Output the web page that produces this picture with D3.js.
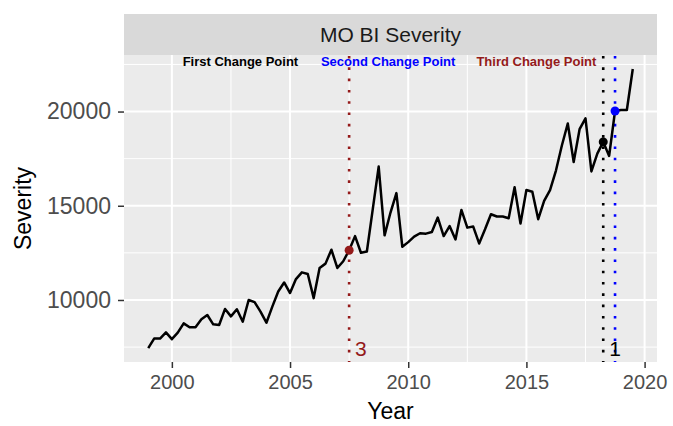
<!DOCTYPE html>
<html>
<head>
<meta charset="utf-8">
<script src="https://cdn.jsdelivr.net/npm/d3@7"></script>
<style>
  html, body { margin: 0; padding: 0; background: #ffffff; }
  svg { display: block; font-family: "Liberation Sans", Arial, Helvetica, sans-serif; }
</style>
</head>
<body>
<svg id="chart" width="673" height="426"></svg>
<script>
// ---------------- data ----------------
const title = "MO BI Severity";
const startYear = 1999;          // first quarter
const step = 0.25;               // quarterly
const severity = [
  7450, 7950, 7950, 8280, 7920, 8265, 8760, 8550, 8560, 8980,
  9205, 8710, 8670, 9525, 9130, 9510, 8850, 10000, 9890, 9385,
  8795, 9650, 10450, 10930, 10370, 11110, 11465, 11380, 10100, 11700,
  11930, 12670, 11700, 12055, 12640, 13390, 12505, 12575, 14820, 17080,
  13430, 14640, 15670, 12825, 13070, 13360, 13540, 13520, 13605, 14375,
  13395, 13925, 13215, 14780, 13840, 13895, 13000, 13750, 14550, 14430,
  14430, 14340, 15980, 14055, 15835, 15745, 14285, 15265, 15835, 16870,
  18200, 19365, 17320, 19065, 19640, 16820, 17770, 18390, 17645, 20030,
  20080, 20080, 22260
];
const changeLabels = ["First Change Point", "Second Change Point", "Third Change Point"];
const changeIndex = [77, 79, 34];                 // index into severity
const changeColors = ["#000000", "#0000FF", "#941A1A"];
const changeNumbers = ["1", "3"];                 // numeric labels drawn
const changeNumberOf = [0, 2];                    // which change point they belong to
const labelX = [2002.9, 2009.15, 2015.42];        // header label positions (year)
const labelY = 22640;
const xTicks = [2000, 2005, 2010, 2015, 2020];
const xMinor = [2002.5, 2007.5, 2012.5, 2017.5];
const yTicks = [10000, 15000, 20000];
const yMinor = [7500, 12500, 17500, 22500];

const data = severity.map((v, i) => ({ x: startYear + i * step, y: v }));

// ---------------- layout ----------------
const svg = d3.select("#chart");
const P = { left: 124, right: 657, top: 55, bottom: 362 };
const stripTop = 14;

const xExt = d3.extent(data, d => d.x);
const yExt = d3.extent(data, d => d.y);
const xs = xExt[1] - xExt[0], ys = yExt[1] - yExt[0];
const x = d3.scaleLinear().domain([xExt[0] - 0.05 * xs, xExt[1] + 0.05 * xs]).range([P.left, P.right]);
const y = d3.scaleLinear().domain([yExt[0] - 0.05 * ys, yExt[1] + 0.05 * ys]).range([P.bottom, P.top]);

// strip
svg.append("rect").attr("x", P.left).attr("y", stripTop).attr("width", P.right - P.left)
  .attr("height", P.top - stripTop).attr("fill", "#D9D9D9");
svg.append("text").attr("x", (P.left + P.right) / 2).attr("y", (stripTop + P.top) / 2)
  .attr("text-anchor", "middle").attr("dominant-baseline", "central")
  .attr("font-size", 21).attr("fill", "#1A1A1A").text(title);

// panel
svg.append("rect").attr("x", P.left).attr("y", P.top).attr("width", P.right - P.left)
  .attr("height", P.bottom - P.top).attr("fill", "#EBEBEB");

const grid = svg.append("g");
const inX = v => v >= x.domain()[0] && v <= x.domain()[1];
const inY = v => v >= y.domain()[0] && v <= y.domain()[1];
grid.selectAll(".xm").data(xMinor.filter(inX)).join("line")
  .attr("x1", d => x(d)).attr("x2", d => x(d)).attr("y1", P.top).attr("y2", P.bottom)
  .attr("stroke", "#fff").attr("stroke-width", 1);
grid.selectAll(".ym").data(yMinor.filter(inY)).join("line")
  .attr("y1", d => y(d)).attr("y2", d => y(d)).attr("x1", P.left).attr("x2", P.right)
  .attr("stroke", "#fff").attr("stroke-width", 1);
grid.selectAll(".xM").data(xTicks.filter(inX)).join("line")
  .attr("x1", d => x(d)).attr("x2", d => x(d)).attr("y1", P.top).attr("y2", P.bottom)
  .attr("stroke", "#fff").attr("stroke-width", 2);
grid.selectAll(".yM").data(yTicks.filter(inY)).join("line")
  .attr("y1", d => y(d)).attr("y2", d => y(d)).attr("x1", P.left).attr("x2", P.right)
  .attr("stroke", "#fff").attr("stroke-width", 2);

// vertical change-point lines
const cps = changeIndex.map((idx, k) => ({ x: data[idx].x, y: data[idx].y, color: changeColors[k] }));
svg.append("g").selectAll("line").data(cps).join("line")
  .attr("x1", d => x(d.x)).attr("x2", d => x(d.x)).attr("y1", P.top + 1).attr("y2", P.bottom)
  .attr("stroke", d => d.color).attr("stroke-width", 2.6).attr("stroke-dasharray", "2.6 8.7");

// series line
svg.append("path").datum(data)
  .attr("d", d3.line().x(d => x(d.x)).y(d => y(d.y)))
  .attr("fill", "none").attr("stroke", "#000").attr("stroke-width", 2.5)
  .attr("stroke-linejoin", "round");

// change points
svg.append("g").selectAll("circle").data(cps).join("circle")
  .attr("cx", d => x(d.x)).attr("cy", d => y(d.y)).attr("r", 4.5).attr("fill", d => d.color);

// header labels
svg.append("g").selectAll("text").data(changeLabels).join("text")
  .attr("x", (d, i) => x(labelX[i])).attr("y", y(labelY))
  .attr("text-anchor", "middle").attr("dominant-baseline", "central")
  .attr("font-size", 13).attr("font-weight", "bold")
  .attr("fill", (d, i) => changeColors[i]).text(d => d);

// numeric labels
svg.append("g").selectAll("text").data(changeNumbers).join("text")
  .attr("x", (d, i) => x(cps[changeNumberOf[i]].x + 0.5))
  .attr("y", y(yExt[0]))
  .attr("text-anchor", "middle").attr("dominant-baseline", "central")
  .attr("font-size", 21).attr("fill", (d, i) => changeColors[changeNumberOf[i]]).text(d => d);

// axes
const xAxis = d3.axisBottom(x).tickValues(xTicks).tickSize(6).tickPadding(7).tickFormat(d3.format("d"));
const gx = svg.append("g").attr("transform", `translate(0,${P.bottom})`).call(xAxis);
gx.select(".domain").remove();
gx.selectAll("line").attr("stroke", "#333333").attr("stroke-width", 1.5);
gx.selectAll("text").attr("fill", "#4D4D4D").attr("font-size", 20)
  .attr("font-family", "Liberation Sans, Arial, sans-serif");

const yAxis = d3.axisLeft(y).tickValues(yTicks).tickSize(6).tickPadding(7).tickFormat(d3.format("d"));
const gy = svg.append("g").attr("transform", `translate(${P.left},0)`).call(yAxis);
gy.select(".domain").remove();
gy.selectAll("line").attr("stroke", "#333333").attr("stroke-width", 1.5);
gy.selectAll("text").attr("fill", "#4D4D4D").attr("font-size", 23)
  .attr("font-family", "Liberation Sans, Arial, sans-serif");

svg.append("text").attr("x", (P.left + P.right) / 2).attr("y", 419)
  .attr("text-anchor", "middle").attr("font-size", 23).attr("fill", "#000").text("Year");
svg.append("text").attr("transform", `translate(30.5,${(P.top + P.bottom) / 2}) rotate(-90)`)
  .attr("text-anchor", "middle").attr("font-size", 23).attr("fill", "#000").text("Severity");
</script>
</body>
</html>
